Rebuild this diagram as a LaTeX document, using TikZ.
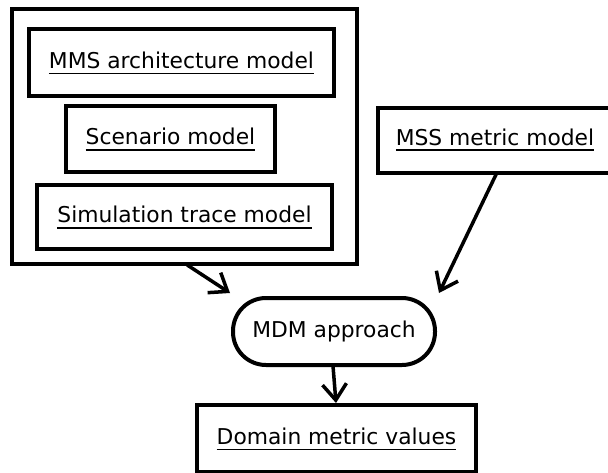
\documentclass[tikz,border=0pt]{standalone}
\usepackage{fontspec}
\setmainfont{DejaVu Sans}
\usetikzlibrary{arrows.meta,calc}
\newcommand\ulx[1]{\setbox0\hbox{#1}\rlap{\smash{\rule[-5.75pt]{\wd0}{1.5pt}}}\box0}
\begin{document}
\begin{tikzpicture}[x=1pt,y=-1pt,
  box/.style={draw,line width=4pt,rectangle,inner sep=0pt,
    font=\fontsize{21.8}{26}\selectfont,text height=16pt,text depth=4.4pt},
  arr/.style={line width=3.5pt,-{Straight Barb[length=16pt,width=24pt]}}]
\clip (0,0) rectangle (608,472);
\node[box,minimum width=345.5pt,minimum height=255pt] (outer) at (184.25,136.5) {};
\node[box,minimum width=305pt,minimum height=67pt] (mms) at (181.5,62.5) {\ulx{MMS architecture model}};
\node[box,minimum width=209pt,minimum height=66pt] (scen) at (170.5,139) {\ulx{Scenario model}};
\node[box,minimum width=295pt,minimum height=64pt] (sim) at (184.5,217) {\ulx{Simulation trace model}};
\node[box,minimum width=234pt,minimum height=65pt,text depth=6pt] (mss) at (495,140) {\ulx{MSS metric model}};
\node[box,rounded corners=33pt,minimum width=202pt,minimum height=67pt] (mdm) at (334,331.5) {MDM approach};
\node[box,minimum width=279pt,minimum height=67pt] (dom) at (336.5,438.5) {\ulx{Domain metric values}};
\draw[arr] ($(outer.south)+(3,-1)$) -- ($(mdm.north west)+(-1,-3)$);
\draw[arr] ($(mss.south)+(2,-2)$) -- ($(mdm.north east)+(2,-3)$);
\draw[arr] ($(mdm.south)+(-1,-1)$) -- ($(dom.north)+(-0.5,0)$);
\end{tikzpicture}
\end{document}
